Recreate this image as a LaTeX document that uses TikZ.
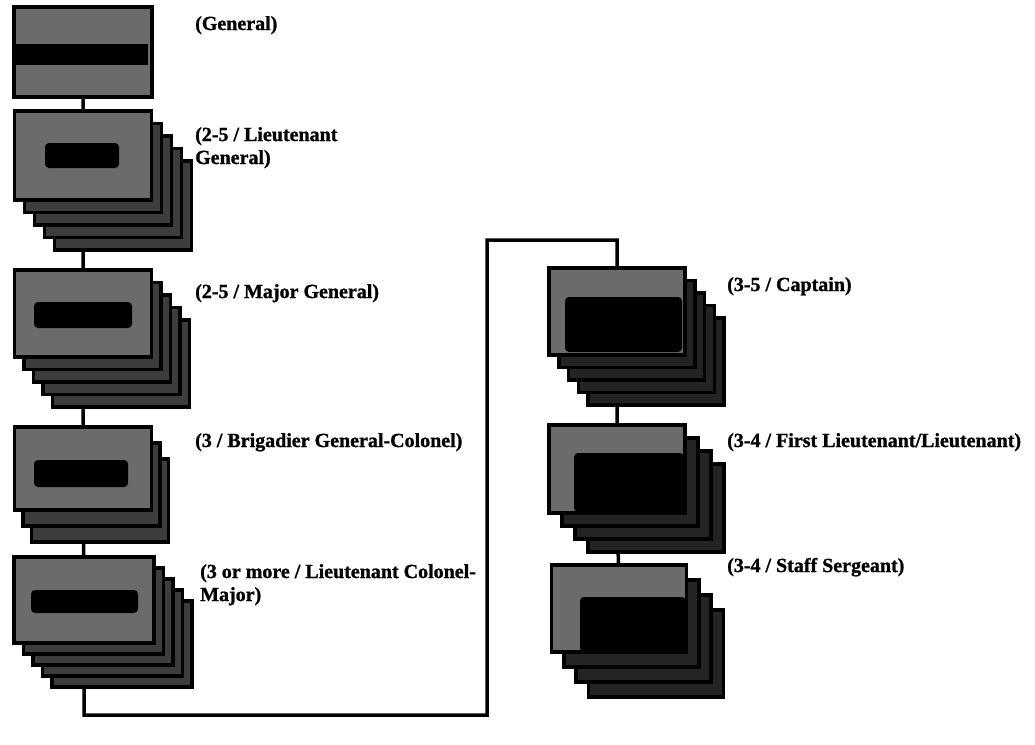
\documentclass[tikz,border=0pt]{standalone}
\usepackage{fontspec}
\setmainfont{Liberation Serif}[BoldFeatures={FakeBold=1.2}]
\usetikzlibrary{backgrounds}
\tikzset{
  frontbox/.style={draw=black, line width=3.5pt, fill=black!58, inner sep=0pt, outer sep=0pt, anchor=north},
  backbox/.style={draw=black, line width=3.5pt, fill=black!76},
  rbackbox/.style={draw=black, line width=3.5pt, fill=black!86},
  blob/.style={fill=black, rounded corners=4pt},
  conn/.style={draw=black, line width=3.5pt},
  lbl/.style={font=\fontsize{20}{23}\selectfont\bfseries, inner sep=0pt, anchor=base west, align=left}
}
% name, centre x, top y, width, height, back layers, dx, dy, back style
\newcommand\mystack[9]{%
  \ifnum#6>0
    \foreach \i in {#6,...,1}{%
      \draw[#9] ({#2-#4/2+\i*#7},{#3+\i*#8}) rectangle ++(#4,#5);
    }%
  \fi
  \node[frontbox, minimum width=#4pt, minimum height=#5pt] (#1) at (#2,#3) {};
}
\begin{document}
\begin{tikzpicture}[x=1pt,y=-1pt]
\useasboundingbox (0,0) rectangle (1035,744);
% left column
\mystack{A}{83}{7}{138}{90}{0}{0}{0}{backbox}
\mystack{B}{83}{111}{137}{89}{4}{10}{12.5}{backbox}
\mystack{C}{83}{270}{137}{87}{4}{9.5}{12.5}{backbox}
\mystack{D}{83}{427}{137}{83}{2}{8.5}{16}{backbox}
\mystack{E}{84}{557}{140}{86}{4}{9.5}{11}{backbox}
% right column
\mystack{F}{617}{268}{136}{87}{4}{9.75}{12.5}{rbackbox}
\mystack{G}{617}{425}{136}{88}{3}{13}{13}{rbackbox}
\mystack{H}{619}{565}{135}{87}{3}{12.3}{15}{rbackbox}
% illegible dark text blobs on the front faces
\fill[blob, rounded corners=0pt] (15,44) rectangle (148,65);
\fill[blob] (45,143) rectangle (119,168);
\fill[blob] (34,302) rectangle (132,328);
\fill[blob] (34,460) rectangle (128,487);
\fill[blob] (31,590) rectangle (138,613);
\fill[blob] (565,297) rectangle (682,352);
\fill[blob] (574,453) rectangle (684,512);
\fill[blob] (580,597) rectangle (686,652);
% connectors
\coordinate (c1) at (487,715);
\coordinate (c2) at (487,240);
\begin{scope}[on background layer]
\draw[conn] (A.center) -- (B.center) -- (C.center) -- (D.center) -- (E.center)
  -- (E.center |- c1) -- (c1) -- (c2) -- (F.center |- c2) -- (F.center)
  -- (G.center) -- (H.center);
\end{scope}
% labels
\node[lbl] (lA) at (195,30) {(General)};
\node[lbl] (lB) at (195,164) {(2-5 / Lieutenant\\General)};
\node[lbl] (lC) at (195,298) {(2-5 / Major General)};
\node[lbl] (lD) at (195,447) {(3 / Brigadier General-Colonel)};
\node[lbl] (lE) at (200,601) {(3 or more / Lieutenant Colonel-\\Major)};
\node[lbl] (lF) at (727,291) {(3-5 / Captain)};
\node[lbl] (lG) at (727,447) {(3-4 / First Lieutenant/Lieutenant)};
\node[lbl] (lH) at (727,572) {(3-4 / Staff Sergeant)};
\end{tikzpicture}
\end{document}
